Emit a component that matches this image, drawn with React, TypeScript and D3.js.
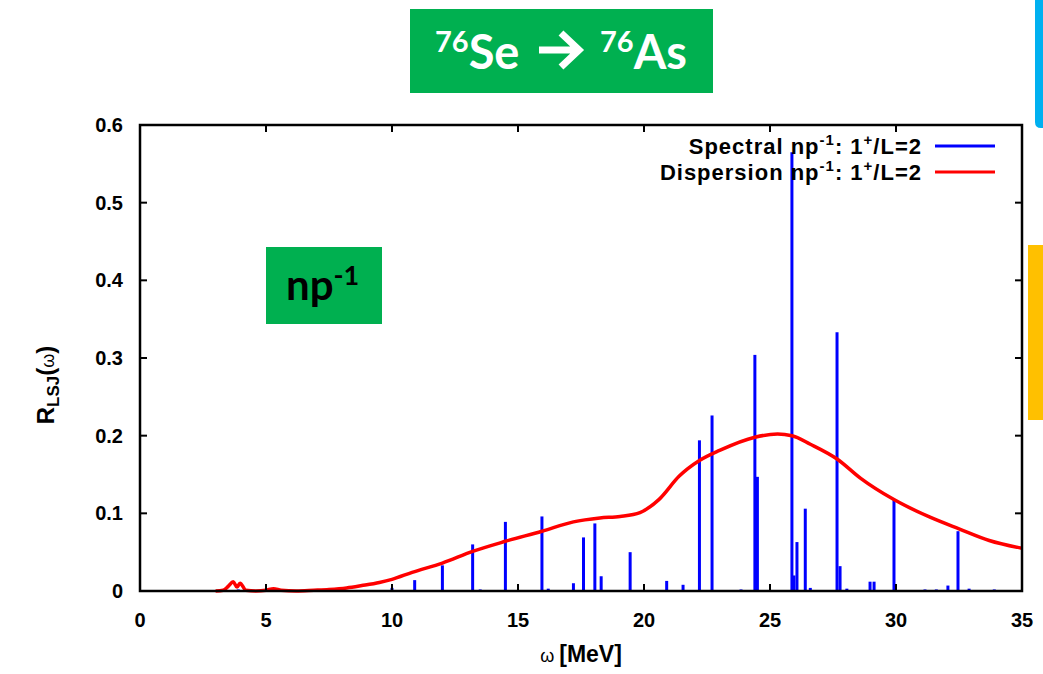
import React, { useEffect, useRef } from 'react';
import * as d3 from 'd3';

// spectral lines (omega in MeV, strength)
const spikeOmega = [3.9, 10.0, 10.9, 12.0, 13.2, 13.5, 14.5, 15.95, 16.2, 17.2, 17.6, 18.05, 18.3, 19.45, 20.9, 21.55, 22.2, 22.7, 23.85, 24.4, 24.5, 25.87, 25.95, 26.07, 26.4, 26.6, 27.66, 27.78, 28.05, 28.97, 29.13, 29.92, 31.15, 31.6, 32.06, 32.46, 32.9, 33.9];
const spikeValue = [0.002, 0.004, 0.014, 0.033, 0.06, 0.002, 0.089, 0.096, 0.003, 0.01, 0.069, 0.087, 0.019, 0.05, 0.013, 0.008, 0.194, 0.226, 0.002, 0.304, 0.147, 0.565, 0.02, 0.063, 0.106, 0.004, 0.333, 0.032, 0.003, 0.012, 0.012, 0.117, 0.002, 0.002, 0.007, 0.077, 0.003, 0.002];

// dispersion curve
const curveOmega = [3.0, 3.3, 3.5, 3.7, 3.85, 3.97, 4.2, 4.6, 5.0, 5.3, 5.6, 6.2, 6.9, 7.5, 8.2, 8.8, 9.5, 10.0, 10.8, 12.0, 13.2, 14.5, 15.95, 17.2, 18.25, 19.05, 19.84, 20.6, 21.4, 22.2, 23.0, 24.4, 25.3, 25.87, 26.6, 27.66, 28.6, 29.9, 31.35, 32.5, 33.7, 35.0];
const curveValue = [0.0, 0.001, 0.006, 0.012, 0.005, 0.01, 0.001, 0.0, 0.001, 0.003, 0.001, 0.0, 0.001, 0.002, 0.004, 0.007, 0.011, 0.015, 0.024, 0.036, 0.051, 0.064, 0.077, 0.089, 0.094, 0.096, 0.101, 0.118, 0.148, 0.168, 0.181, 0.198, 0.202, 0.2, 0.189, 0.17, 0.145, 0.118, 0.095, 0.08, 0.065, 0.055];

const xTicks = [0, 5, 10, 15, 20, 25, 30, 35];
const yTicks = [0, 0.1, 0.2, 0.3, 0.4, 0.5, 0.6];

const App = () => {
  const ref = useRef<SVGSVGElement>(null);

  useEffect(() => {
    if (!ref.current) return;
    const svg = d3.select(ref.current);
    svg.selectAll('*').remove();

    const left = 140, right = 1022, top = 125, bottom = 591;
    const x = d3.scaleLinear().domain([0, 35]).range([left, right]);
    const y = d3.scaleLinear().domain([0, 0.6]).range([bottom, top]);
    const font = "'Liberation Sans', Arial, sans-serif";
    const titleFont = "Lato, 'Open Sans', sans-serif";

    svg.append('rect').attr('width', 1043).attr('height', 674).attr('fill', '#fff');

    // side decorations
    svg.append('path')
      .attr('d', 'M1035,0 H1043 V128 H1041 Q1035,128 1035,122 Z')
      .attr('fill', '#00b0f0');
    svg.append('rect').attr('x', 1028).attr('y', 245).attr('width', 15).attr('height', 175).attr('fill', '#ffc000');

    // title box
    svg.append('rect').attr('x', 410).attr('y', 9).attr('width', 303).attr('height', 84).attr('fill', '#00b050');
    const addNuc = (x0: number, sym: string) => {
      const t = svg.append('text')
        .attr('x', x0).attr('y', 69)
        .attr('fill', '#fff')
        .style('font-family', titleFont)
        .style('font-weight', 700)
        .style('font-size', '47px');
      t.append('tspan').attr('dy', -17).style('font-size', '29px').text('76');
      t.append('tspan').attr('dy', 17).text(sym);
    };
    addNuc(435, 'Se');
    addNuc(600, 'As');
    svg.append('path')
      .attr('d', 'M539,50 H578 M561,33 L579,50 L561,67')
      .attr('fill', 'none')
      .attr('stroke', '#fff')
      .attr('stroke-width', 7)
      .attr('stroke-linejoin', 'miter');

    // np^-1 box
    svg.append('rect').attr('x', 266).attr('y', 247).attr('width', 116).attr('height', 77).attr('fill', '#00b050');
    const np = svg.append('text')
      .attr('x', 286).attr('y', 300)
      .attr('fill', '#000')
      .style('font-family', titleFont)
      .style('font-weight', 700)
      .style('font-size', '42px');
    np.append('tspan').text('np');
    np.append('tspan').attr('dy', -15).style('font-size', '27px').text('-1');

    // data
    const g = svg.append('g');
    g.selectAll('line.spike')
      .data(spikeOmega.map((w, i) => ({ w, v: spikeValue[i] })))
      .enter()
      .append('line')
      .attr('class', 'spike')
      .attr('x1', d => x(d.w)).attr('x2', d => x(d.w))
      .attr('y1', y(0)).attr('y2', d => y(d.v))
      .attr('stroke', '#0000ff')
      .attr('stroke-width', 3);

    const line = d3.line<number>()
      .x((d, i) => x(curveOmega[i]))
      .y(d => y(d))
      .curve(d3.curveMonotoneX);
    g.append('path')
      .attr('d', line(curveValue))
      .attr('fill', 'none')
      .attr('stroke', '#ff0000')
      .attr('stroke-width', 3.5);

    // frame + inward ticks
    svg.append('rect')
      .attr('x', left).attr('y', top)
      .attr('width', right - left).attr('height', bottom - top)
      .attr('fill', 'none').attr('stroke', '#000').attr('stroke-width', 2.5);
    xTicks.slice(1, -1).forEach(t => {
      svg.append('line').attr('x1', x(t)).attr('x2', x(t)).attr('y1', bottom).attr('y2', bottom - 7).attr('stroke', '#000').attr('stroke-width', 2);
      svg.append('line').attr('x1', x(t)).attr('x2', x(t)).attr('y1', top).attr('y2', top + 7).attr('stroke', '#000').attr('stroke-width', 2);
    });
    yTicks.slice(1, -1).forEach(t => {
      svg.append('line').attr('x1', left).attr('x2', left + 7).attr('y1', y(t)).attr('y2', y(t)).attr('stroke', '#000').attr('stroke-width', 2);
      svg.append('line').attr('x1', right).attr('x2', right - 7).attr('y1', y(t)).attr('y2', y(t)).attr('stroke', '#000').attr('stroke-width', 2);
    });

    // tick labels
    svg.selectAll('text.xt').data(xTicks).enter().append('text')
      .attr('class', 'xt')
      .attr('x', d => x(d)).attr('y', 627)
      .attr('text-anchor', 'middle')
      .style('font-family', font).style('font-weight', 700).style('font-size', '20px')
      .text(d => d);
    svg.selectAll('text.yt').data(yTicks).enter().append('text')
      .attr('class', 'yt')
      .attr('x', 123).attr('y', d => y(d) + 7)
      .attr('text-anchor', 'end')
      .style('font-family', font).style('font-weight', 700).style('font-size', '20px')
      .text(d => (d === 0 ? '0' : d3.format('.1f')(d)));

    // axis titles
    const xl = svg.append('text')
      .attr('x', 581).attr('y', 662)
      .attr('text-anchor', 'middle')
      .style('font-family', font).style('font-weight', 700).style('font-size', '23px');
    xl.append('tspan').style('font-size', '18px').style('font-weight', 400).text('\u03c9 ');
    xl.append('tspan').text('[MeV]');

    const yl = svg.append('text')
      .attr('transform', 'translate(54,385) rotate(-90)')
      .attr('text-anchor', 'middle')
      .style('font-family', font).style('font-weight', 700).style('font-size', '24px');
    yl.append('tspan').text('R');
    yl.append('tspan').attr('dy', 5).style('font-size', '17px').text('LSJ');
    yl.append('tspan').attr('dy', -5).text('(');
    yl.append('tspan').style('font-size', '18px').style('font-weight', 400).text('\u03c9');
    yl.append('tspan').text(')');

    // legend
    const legend = [
      { label: 'Spectral', color: '#0000ff' },
      { label: 'Dispersion', color: '#ff0000' },
    ];
    legend.forEach((l, i) => {
      const ly = 146 + i * 26;
      const t = svg.append('text')
        .attr('x', 922).attr('y', ly + 8)
        .attr('text-anchor', 'end')
        .style('font-family', font).style('font-weight', 700).style('font-size', '22px')
        .style('letter-spacing', '1px');
      t.append('tspan').text(`${l.label} np`);
      t.append('tspan').attr('dy', -9).style('font-size', '15px').text('-1');
      t.append('tspan').attr('dy', 9).text(': 1');
      t.append('tspan').attr('dy', -9).style('font-size', '15px').text('+');
      t.append('tspan').attr('dy', 9).text('/L=2');
      svg.append('line').attr('x1', 935).attr('x2', 995).attr('y1', ly).attr('y2', ly)
        .attr('stroke', l.color).attr('stroke-width', 3);
    });
  }, []);

  return (
    <svg ref={ref} width={1043} height={674}
      style={{ position: 'absolute', left: 0, top: 0, display: 'block' }} />
  );
};

export default App;
